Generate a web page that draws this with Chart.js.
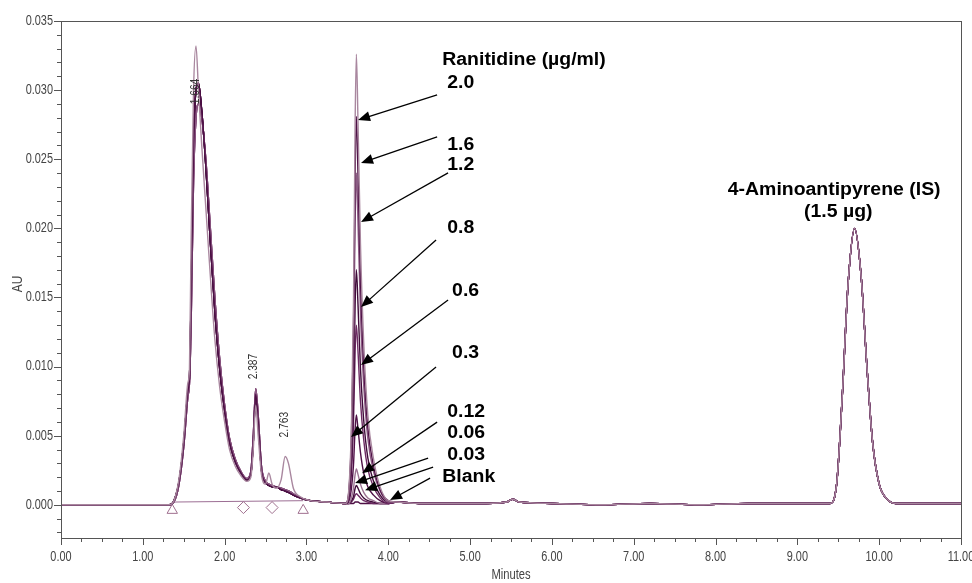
<!DOCTYPE html>
<html>
  <head>
    <title>Ranitidine - cromatograma</title>
    <meta name="viewport" content="width=device-width, initial-scale=1" />
    <script src="https://cdn.jsdelivr.net/npm/chart.js"></script>
    <style>
      body { margin: 0; background: #fff; }
    </style>
  </head>
  <body>
    <canvas id="chromChart" width="972" height="583"></canvas>
    <script>
      // times in minutes, absorbance in AU

      // solvent front + 2.387 / 2.763 peaks (three slightly different runs)
      const frontTimes = [0, 0.4, 0.8, 1.2, 1.32, 1.38, 1.44, 1.5, 1.55, 1.57, 1.59, 1.62, 1.65, 1.68, 1.72, 1.77, 1.82, 1.88, 1.94, 2.0, 2.06, 2.13, 2.2, 2.27, 2.32, 2.35, 2.38, 2.41, 2.45, 2.5, 2.54, 2.58, 2.63, 2.69, 2.74, 2.78, 2.84, 2.92, 3.05, 3.25, 3.45];
      const frontDark = [0, 0, 0, 0, 0, 0.0003, 0.0016, 0.0045, 0.0082, 0.0092, 0.0150, 0.0260, 0.0300, 0.0305, 0.0285, 0.0245, 0.0195, 0.0140, 0.0098, 0.0068, 0.0045, 0.0031, 0.0023, 0.0018, 0.0022, 0.0045, 0.0080, 0.0060, 0.0025, 0.0016, 0.0014, 0.0013, 0.0013, 0.0011, 0.0010, 0.0009, 0.0007, 0.0005, 0.0003, 0.0002, 0.0001];
      const frontMid = [0, 0, 0, 0, 0, 0.0002, 0.0014, 0.0042, 0.0078, 0.0088, 0.0130, 0.0235, 0.0280, 0.0290, 0.0280, 0.0250, 0.0205, 0.0150, 0.0105, 0.0072, 0.0048, 0.0033, 0.0024, 0.0019, 0.0024, 0.0050, 0.0084, 0.0065, 0.0028, 0.0017, 0.0015, 0.0014, 0.0013, 0.0012, 0.0011, 0.0010, 0.0008, 0.0005, 0.0003, 0.0002, 0.0001];
      const frontLight = [0, 0, 0, 0, 0, 0.0003, 0.0018, 0.0050, 0.0088, 0.0098, 0.0190, 0.0300, 0.0332, 0.0300, 0.0260, 0.0215, 0.0170, 0.0120, 0.0085, 0.0060, 0.0040, 0.0028, 0.0021, 0.0017, 0.0020, 0.0040, 0.0072, 0.0050, 0.0022, 0.0015, 0.0023, 0.0015, 0.0012, 0.0018, 0.0035, 0.0030, 0.0012, 0.0006, 0.0003, 0.0002, 0.0001];

      // ranitidine peak, one row per standard
      const ranTimes = [3.48, 3.52, 3.55, 3.575, 3.595, 3.61, 3.63, 3.66, 3.70, 3.75, 3.82, 3.90, 4.00];
      const ran20 = [0.0001, 0.0013, 0.0059, 0.0147, 0.0277, 0.0326, 0.0277, 0.0189, 0.0117, 0.0065, 0.0033, 0.0013, 0.0003];
      const ran16 = [0.0001, 0.0011, 0.0051, 0.0126, 0.0239, 0.0281, 0.0239, 0.0163, 0.0101, 0.0056, 0.0028, 0.0011, 0.0003];
      const ran12 = [0.0001, 0.0010, 0.0043, 0.0108, 0.0204, 0.0240, 0.0204, 0.0139, 0.0086, 0.0048, 0.0024, 0.0010, 0.0002];
      const ran08 = [0.0001, 0.0007, 0.0031, 0.0077, 0.0145, 0.0170, 0.0145, 0.0099, 0.0061, 0.0034, 0.0017, 0.0007, 0.0002];
      const ran06 = [0.0001, 0.0005, 0.0023, 0.0059, 0.0111, 0.0130, 0.0111, 0.0075, 0.0047, 0.0026, 0.0013, 0.0005, 0.0001];
      const ran03 = [0.0001, 0.0003, 0.0012, 0.0029, 0.0055, 0.0065, 0.0055, 0.0038, 0.0023, 0.0013, 0.0007, 0.0003, 0.0001];
      const ran012 = [0.0001, 0.0001, 0.0005, 0.0012, 0.0022, 0.0026, 0.0022, 0.0015, 0.0009, 0.0005, 0.0003, 0.0001, 0.0001];
      const ran006 = [0.0001, 0.0001, 0.0003, 0.0006, 0.0012, 0.0014, 0.0012, 0.0008, 0.0005, 0.0003, 0.0002, 0.0001, 0.0001];
      const ran003 = [0.0001, 0.0001, 0.0002, 0.0004, 0.0007, 0.0008, 0.0007, 0.0005, 0.0003, 0.0002, 0.0001, 0.0001, 0.0001];
      const ranBlank = [0.0001, 0.0001, 0.0001, 0.0001, 0.0002, 0.0002, 0.0002, 0.0001, 0.0001, 0.0001, 0.0001, 0.0001, 0.0001];

      // baseline and 4-aminoantipyrene (IS) peak, same in every run
      const backTimes = [4.1, 4.4, 4.8, 5.2, 5.45, 5.52, 5.6, 6.0, 6.6, 7.2, 7.8, 8.4, 9.0, 9.4, 9.48, 9.55, 9.62, 9.70, 9.78, 9.85, 9.92, 10.0, 10.1, 10.2, 10.6, 11.0];
      const backValues = [0.0002, 0.0001, 0.0001, 0.0001, 0.0002, 0.0004, 0.0002, 0.0001, 0.0000, 0.0001, 0.0000, 0.0001, 0.0001, 0.0001, 0.0015, 0.0080, 0.0160, 0.0200, 0.0165, 0.0100, 0.0045, 0.0015, 0.0004, 0.0001, 0.0001, 0.0001];

      const traceNames = ["2.0", "1.6", "1.2", "0.8", "0.6", "0.3", "0.12", "0.06", "0.03", "Blank"];
      const traceFronts = [frontLight, frontDark, frontMid, frontDark, frontMid, frontDark, frontMid, frontDark, frontMid, frontDark];
      const tracePeaks = [ran20, ran16, ran12, ran08, ran06, ran03, ran012, ran006, ran003, ranBlank];
      const traceColors = ["#a9879f", "#4e1046", "#8d5a84", "#3f0b39", "#6d2b63", "#4e1046", "#9c7394", "#3f0b39", "#6d2b63", "#4e1046"];

      // integration baseline and its start/end markers
      const baseTimes = [1.36, 2.96];
      const baseValues = [0.0002, 0.0003];
      const markTimes = [1.36, 2.23, 2.58, 2.96];
      const markValues = [-0.0004, -0.0002, -0.0002, -0.0004];
      const markStyles = ["triangle", "rectRot", "rectRot", "triangle"];

      const yTickLabels = ["0.000", "0.005", "0.010", "0.015", "0.020", "0.025", "0.030", "0.035"];
      const xTickLabels = ["0.00", "1.00", "2.00", "3.00", "4.00", "5.00", "6.00", "7.00", "8.00", "9.00", "10.00", "11.00"];

      // text and arrows, in axis units
      const notes = {
        bold: [
          ["Ranitidine (µg/ml)", 4.66, 0.0322],
          ["2.0", 4.72, 0.0305],
          ["1.6", 4.72, 0.0260],
          ["1.2", 4.72, 0.0246],
          ["0.8", 4.72, 0.0200],
          ["0.6", 4.78, 0.0155],
          ["0.3", 4.78, 0.0110],
          ["0.12", 4.72, 0.0067],
          ["0.06", 4.72, 0.0052],
          ["0.03", 4.72, 0.0036],
          ["Blank", 4.66, 0.0020]
        ],
        arrows: [
          [4.597, 0.02965, 3.631, 0.02784],
          [4.597, 0.02661, 3.667, 0.02473],
          [4.731, 0.02401, 3.667, 0.02046],
          [4.584, 0.01916, 3.667, 0.01431],
          [4.731, 0.01482, 3.667, 0.01012],
          [4.584, 0.00997, 3.545, 0.00491],
          [4.597, 0.00598, 3.680, 0.00229],
          [4.487, 0.00337, 3.594, 0.00157],
          [4.548, 0.00272, 3.716, 0.00106],
          [4.511, 0.00193, 4.022, 0.00034]
        ],
        centered: [
          ["4-Aminoantipyrene (IS)", 9.45, 0.0228],
          ["(1.5 µg)", 9.50, 0.0212]
        ],
        tags: [
          ["1.664", 1.647, 0.0299],
          ["2.387", 2.36, 0.0100],
          ["2.763", 2.73, 0.0058]
        ]
      };

      const axisFont = "14px 'Liberation Sans', Arial, sans-serif";
      const boldFont = "bold 18px 'Liberation Sans', Arial, sans-serif";

      function toPoints(xs, ys) {
        return xs.map((x, i) => ({ x: x, y: ys[i] }));
      }

      const datasets = traceNames.map((name, i) => ({
        label: name,
        data: toPoints(frontTimes, traceFronts[i]).concat(
          toPoints(ranTimes, tracePeaks[i]),
          toPoints(backTimes, backValues)
        ),
        borderColor: traceColors[i],
        borderWidth: 1.4,
        pointRadius: 0,
        cubicInterpolationMode: "monotone",
        fill: false
      }));

      datasets.push({
        label: "baseline",
        data: toPoints(baseTimes, baseValues),
        borderColor: "#9c6e94",
        borderWidth: 1,
        pointRadius: 0
      });
      datasets.push({
        label: "marks",
        data: toPoints(markTimes, markValues),
        showLine: false,
        pointStyle: markStyles,
        pointRadius: 6,
        pointBackgroundColor: "#fff",
        pointBorderColor: "#a0708f",
        pointBorderWidth: 1
      });

      // narrow text, like the instrument software prints
      function narrowText(ctx, text, x, y, sx, rot) {
        ctx.save();
        ctx.translate(x, y);
        if (rot) ctx.rotate(rot);
        ctx.scale(sx, 1);
        ctx.fillText(text, 0, 0);
        ctx.restore();
      }

      function drawArrow(ctx, x0, y0, x1, y1) {
        const a = Math.atan2(y1 - y0, x1 - x0);
        const len = 12, hw = 5;
        ctx.beginPath();
        ctx.moveTo(x0, y0);
        ctx.lineTo(x1 - Math.cos(a) * len * 0.8, y1 - Math.sin(a) * len * 0.8);
        ctx.stroke();
        ctx.beginPath();
        ctx.moveTo(x1, y1);
        ctx.lineTo(x1 - Math.cos(a) * len - Math.sin(a) * hw, y1 - Math.sin(a) * len + Math.cos(a) * hw);
        ctx.lineTo(x1 - Math.cos(a) * len + Math.sin(a) * hw, y1 - Math.sin(a) * len - Math.cos(a) * hw);
        ctx.closePath();
        ctx.fill();
      }

      const chromExtras = {
        id: "chromExtras",
        afterDraw(chart) {
          const ctx = chart.ctx;
          const xs = chart.scales.x, ys = chart.scales.y;
          const area = chart.chartArea;
          ctx.save();

          // frame
          ctx.strokeStyle = "#555";
          ctx.lineWidth = 1;
          ctx.strokeRect(area.left + 0.5, area.top + 0.5, area.right - area.left, area.bottom - area.top);

          // tick marks
          ctx.beginPath();
          for (let k = -2; k <= 35; k++) {
            const py = Math.round(ys.getPixelForValue(k / 1000)) + 0.5;
            const len = k % 5 === 0 ? 7 : 4;
            ctx.moveTo(area.left - len, py);
            ctx.lineTo(area.left, py);
          }
          for (let k = 0; k <= 44; k++) {
            const px = Math.round(xs.getPixelForValue(k * 0.25)) + 0.5;
            const len = k % 4 === 0 ? 7 : 4;
            ctx.moveTo(px, area.bottom);
            ctx.lineTo(px, area.bottom + len);
          }
          ctx.stroke();

          // tick labels and axis titles
          ctx.fillStyle = "#444";
          ctx.font = axisFont;
          ctx.textBaseline = "middle";
          ctx.textAlign = "right";
          yTickLabels.forEach((s) => {
            narrowText(ctx, s, area.left - 8, ys.getPixelForValue(parseFloat(s)), 0.78);
          });
          ctx.textAlign = "center";
          xTickLabels.forEach((s) => {
            narrowText(ctx, s, xs.getPixelForValue(parseFloat(s)), 557, 0.78);
          });
          narrowText(ctx, "Minutes", (area.left + area.right) / 2, 575, 0.8);
          narrowText(ctx, "AU", 18, 284, 0.85, -Math.PI / 2);

          // retention time tags
          ctx.font = "12px 'Liberation Sans', Arial, sans-serif";
          ctx.fillStyle = "#333";
          notes.tags.forEach(([t, x, y]) => {
            narrowText(ctx, t, xs.getPixelForValue(x), ys.getPixelForValue(y), 0.85, -Math.PI / 2);
          });

          // bold annotations
          ctx.fillStyle = "#000";
          ctx.strokeStyle = "#000";
          ctx.font = boldFont;
          ctx.textAlign = "left";
          notes.bold.forEach(([t, x, y]) => {
            narrowText(ctx, t, xs.getPixelForValue(x), ys.getPixelForValue(y), 1.08);
          });
          ctx.textAlign = "center";
          notes.centered.forEach(([t, x, y]) => {
            narrowText(ctx, t, xs.getPixelForValue(x), ys.getPixelForValue(y), 1.08);
          });
          ctx.lineWidth = 1.3;
          notes.arrows.forEach(([x0, y0, x1, y1]) => {
            drawArrow(ctx,
              xs.getPixelForValue(x0), ys.getPixelForValue(y0),
              xs.getPixelForValue(x1), ys.getPixelForValue(y1));
          });
          ctx.restore();
        }
      };

      const ctx = document.getElementById("chromChart").getContext("2d");
      const chromChart = new Chart(ctx, {
        type: "line",
        data: { datasets: datasets },
        options: {
          responsive: false,
          animation: false,
          devicePixelRatio: 1,
          layout: { padding: { top: 21, right: 11, left: 0, bottom: 0 } },
          plugins: {
            legend: { display: false },
            tooltip: { enabled: false }
          },
          scales: {
            x: {
              type: "linear",
              min: 0,
              max: 11,
              grid: { display: false, drawTicks: false },
              border: { display: false },
              ticks: { display: false },
              afterFit: (scale) => {
                scale.height = 45;
                scale.paddingLeft = 0;
                scale.paddingRight = 0;
              }
            },
            y: {
              min: -0.0024,
              max: 0.035,
              grid: { display: false, drawTicks: false },
              border: { display: false },
              ticks: { display: false },
              afterFit: (scale) => {
                scale.width = 61;
                scale.paddingTop = 0;
                scale.paddingBottom = 0;
              }
            }
          }
        },
        plugins: [chromExtras]
      });
    </script>
  </body>
</html>
